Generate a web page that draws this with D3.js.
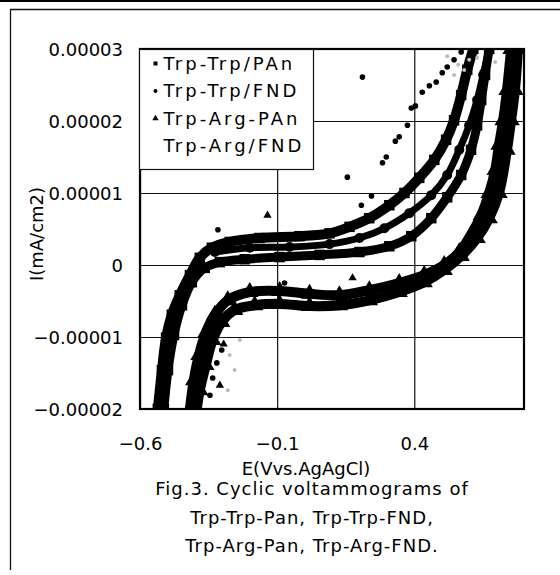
<!DOCTYPE html>
<html lang="en">
<head>
<meta charset="utf-8">
<title>Cyclic voltammograms</title>
<script src="https://d3js.org/d3.v7.min.js"></script>
<style>
  body { margin: 0; background: #fff; }
  text { font-family: "DejaVu Sans", sans-serif; fill: #000; }
</style>
</head>
<body>
<div id="chart"></div>
<script>
// E (V vs Ag/AgCl), I in units of 1e-5 mA/cm2
const ttPanFwd = [[-0.535,-2.0],[-0.52,-1.46],[-0.505,-1.01],[-0.484,-0.69],[-0.455,-0.42],[-0.418,-0.14],
  [-0.382,0.10],[-0.338,0.24],[-0.273,0.32],[-0.164,0.375],[-0.018,0.40],[0.091,0.44],[0.164,0.53],
  [0.236,0.65],[0.309,0.83],[0.364,1.0],[0.418,1.21],[0.473,1.46],[0.516,1.74],[0.545,2.01],
  [0.571,2.36],[0.593,2.71],[0.615,3.0]]
const ttPanRev = [[0.673,3.0],[0.658,2.64],[0.644,2.29],[0.629,1.94],[0.607,1.60],[0.571,1.25],[0.52,0.94],
  [0.462,0.65],[0.389,0.40],[0.309,0.26],[0.2,0.18],[0.055,0.14],[-0.091,0.11],[-0.218,0.08],
  [-0.309,0.04],[-0.364,-0.04],[-0.411,-0.24],[-0.447,-0.56],[-0.476,-0.97],[-0.498,-1.46],[-0.513,-2.0]]
const ttFndBand = [[-0.327,0.18],[-0.2,0.24],[-0.055,0.25],[0.091,0.29],[0.2,0.375],[0.291,0.51],[0.382,0.72],
  [0.462,0.97],[0.52,1.25],[0.564,1.60],[0.6,1.94],[0.629,2.29],[0.651,2.64],[0.673,3.0]]
const taPanFwd = [[-0.418,-2.0],[-0.404,-1.60],[-0.385,-1.25],[-0.36,-0.94],[-0.327,-0.69],[-0.28,-0.49],
  [-0.2,-0.375],[-0.091,-0.36],[0.018,-0.40],[0.127,-0.42],[0.236,-0.35],[0.345,-0.25],[0.436,-0.14],
  [0.509,0.0],[0.564,0.18],[0.607,0.42],[0.644,0.69],[0.673,1.0],[0.695,1.32],[0.709,1.67],
  [0.724,2.01],[0.738,2.43],[0.753,3.0]]
const taPanRev = [[0.778,3.0],[0.767,2.43],[0.753,2.01],[0.738,1.60],[0.709,1.0],[0.673,0.65],[0.629,0.375],
  [0.571,0.125],[0.509,-0.07],[0.436,-0.24],[0.345,-0.375],[0.236,-0.49],[0.127,-0.56],[0.018,-0.57],
  [-0.091,-0.54],[-0.182,-0.56],[-0.255,-0.625],[-0.302,-0.79],[-0.335,-1.04],[-0.36,-1.39],
  [-0.382,-1.74],[-0.393,-2.0]]
const ttFndPts = [[0.207,0.83],[0.244,0.96],[0.284,1.42],[0.298,1.5],[0.331,1.72],[0.345,1.78],[0.375,1.94],
  [0.389,2.18],[0.404,2.21],[0.429,2.40],[0.455,2.49],[0.48,2.54],[0.502,2.67],[0.52,2.75],[0.545,2.85],
  [0.571,2.96],[0.156,1.22],[0.211,2.61],[-0.073,-0.25],[-0.316,0.49],[-0.32,-1.36],[-0.302,-1.18],
  [-0.335,-1.57],[-0.345,-1.81]]
const taPanPts = [[-0.135,0.69],[-0.382,0.10],[0.175,-0.18],[-0.295,-1.1],[-0.309,-1.67]]
const taFndPts = [[0.6,2.85],[0.629,2.88],[0.582,2.71],[0.695,2.82],[0.545,2.64],[0.56,2.78],[0.52,2.9],
  [-0.273,-1.25],[-0.255,-1.46],[-0.28,-1.74],[-0.236,-1.04]]

const seriesNames = ["Trp-Trp/PAn", "Trp-Trp/FND", "Trp-Arg-PAn", "Trp-Arg/FND"]
const xTickValues = [-0.6, -0.1, 0.4]
const xTickLabels = ["-0.6", "-0.1", "0.4"]
const yTickValues = [3, 2, 1, 0, -1, -2]
const yTickLabels = ["0.00003", "0.00002", "0.00001", "0", "-0.00001", "-0.00002"]
const captionLines = ["Fig.3. Cyclic voltammograms of", "Trp-Trp-Pan, Trp-Trp-FND,", "Trp-Arg-Pan, Trp-Arg-FND."]

const m = { left: 140, right: 524, top: 49, bottom: 409 }
const fs = 18
const minus = s => s.replace("-", "\u2212")

const svg = d3.select("#chart").append("svg")
  .attr("width", 560).attr("height", 575)

// scanned page frame
svg.append("line").attr("x1", 0).attr("x2", 560).attr("y1", 1).attr("y2", 1)
  .attr("stroke", "#000").attr("stroke-width", 2)
svg.append("path").attr("d", "M560,9.5H10.5V570")
  .attr("fill", "none").attr("stroke", "#111").attr("stroke-width", 1.3)

const x = d3.scaleLinear().domain([-0.6, 0.8]).range([m.left, m.right])
const y = d3.scaleLinear().domain([-2e-5, 3e-5]).range([m.bottom, m.top])
const px = d => x(d[0])
const py = d => y(d[1] * 1e-5)

// gridlines
svg.append("g")
  .attr("transform", "translate(" + m.left + ",0)")
  .call(d3.axisLeft(y).tickValues(yTickValues.map(v => v * 1e-5)).tickSize(-(m.right - m.left)).tickFormat(""))
  .call(g => g.select(".domain").remove())
  .selectAll("line").attr("stroke", "#111").attr("stroke-width", 1.2)
svg.append("g")
  .attr("transform", "translate(0," + m.bottom + ")")
  .call(d3.axisBottom(x).tickValues(xTickValues).tickSize(-(m.bottom - m.top)).tickFormat(""))
  .call(g => g.select(".domain").remove())
  .selectAll("line").attr("stroke", "#111").attr("stroke-width", 1.2)

// tick labels
const yAxis = svg.append("g")
  .attr("transform", "translate(" + m.left + ",0)")
  .call(d3.axisLeft(y).tickValues(yTickValues.map(v => v * 1e-5)).tickSize(0).tickPadding(17)
    .tickFormat((d, i) => minus(yTickLabels[i])))
yAxis.select(".domain").remove()
yAxis.selectAll("text").attr("font-size", fs).attr("font-family", "DejaVu Sans").attr("dy", "0.36em")

const xAxis = svg.append("g")
  .attr("transform", "translate(0," + m.bottom + ")")
  .call(d3.axisBottom(x).tickValues(xTickValues).tickSize(0).tickPadding(28)
    .tickFormat((d, i) => minus(xTickLabels[i])))
xAxis.select(".domain").remove()
xAxis.selectAll("text").attr("font-size", fs).attr("font-family", "DejaVu Sans")

// data
svg.append("clipPath").attr("id", "clip").append("rect")
  .attr("x", m.left).attr("y", m.top).attr("width", m.right - m.left).attr("height", m.bottom - m.top)
const plot = svg.append("g").attr("clip-path", "url(#clip)")

const line = d3.line().x(px).y(py).curve(d3.curveCatmullRom)
const bands = [
  { pts: ttPanFwd, w: 10 }, { pts: ttPanRev, w: 9 }, { pts: ttFndBand, w: 7 },
  { pts: taPanFwd, w: 10 }, { pts: taPanRev, w: 10 }
]
plot.selectAll(".band").data(bands).enter().append("path")
  .attr("class", "band")
  .attr("d", d => line(d.pts))
  .attr("fill", "none").attr("stroke", "#000").attr("stroke-width", d => d.w)
  .attr("stroke-linejoin", "round").attr("stroke-linecap", "round")

const sq = d3.symbol().type(d3.symbolSquare).size(110)
const tri = d3.symbol().type(d3.symbolTriangle).size(130)
plot.selectAll(".sq").data(ttPanFwd.concat(ttPanRev)).enter().append("path")
  .attr("transform", d => "translate(" + px(d) + "," + py(d) + ")")
  .attr("d", sq).attr("fill", "#000")
plot.selectAll(".tr").data(taPanFwd.concat(taPanRev)).enter().append("path")
  .attr("transform", d => "translate(" + px(d) + "," + py(d) + ")")
  .attr("d", tri).attr("fill", "#000")
plot.selectAll(".tr2").data(taPanPts).enter().append("path")
  .attr("transform", d => "translate(" + px(d) + "," + py(d) + ")")
  .attr("d", d3.symbol().type(d3.symbolTriangle).size(30)).attr("fill", "#000")
plot.selectAll(".fndb").data(ttFndBand).enter().append("circle")
  .attr("cx", px).attr("cy", py).attr("r", 5).attr("fill", "#000")
plot.selectAll(".fnd").data(ttFndPts).enter().append("circle")
  .attr("cx", px).attr("cy", py).attr("r", 2.8).attr("fill", "#000")
plot.selectAll(".afnd").data(taFndPts).enter().append("circle")
  .attr("cx", px).attr("cy", py).attr("r", 2).attr("fill", "#bbb")

// plot border
svg.append("rect")
  .attr("x", m.left).attr("y", m.top).attr("width", m.right - m.left).attr("height", m.bottom - m.top)
  .attr("fill", "none").attr("stroke", "#000").attr("stroke-width", 2.2)

// legend
const lg = svg.append("g").attr("transform", "translate(139.5,49.5)")
lg.append("rect").attr("width", 174).attr("height", 120)
  .attr("fill", "#fff").attr("stroke", "#111").attr("stroke-width", 1.2)
const rows = lg.selectAll(".row").data(seriesNames).enter().append("g")
  .attr("transform", (d, i) => "translate(0," + (14 + i * 27.5) + ")")
rows.append("text").attr("x", 24).attr("dy", "0.36em").attr("font-size", fs)
  .attr("letter-spacing", 3).text(d => d)
rows.filter((d, i) => i == 0).append("rect").attr("x", 14).attr("y", -2).attr("width", 4).attr("height", 4)
rows.filter((d, i) => i == 1).append("circle").attr("cx", 16).attr("r", 2)
rows.filter((d, i) => i == 2).append("path").attr("transform", "translate(16,0)")
  .attr("d", d3.symbol().type(d3.symbolTriangle).size(18))

// axis titles
svg.append("text").attr("x", 306).attr("y", 475).attr("text-anchor", "middle")
  .attr("font-size", fs).text("E(Vvs.AgAgCl)")
svg.append("text").attr("transform", "translate(43,234) rotate(-90)").attr("text-anchor", "middle")
  .attr("font-size", 18).text("I(mA/cm2)")

// caption
svg.selectAll(".cap").data(captionLines).enter().append("text")
  .attr("x", 312).attr("y", (d, i) => 495 + i * 28.5)
  .attr("text-anchor", "middle").attr("font-size", fs).attr("letter-spacing", 1).text(d => d)
</script>
</body>
</html>
